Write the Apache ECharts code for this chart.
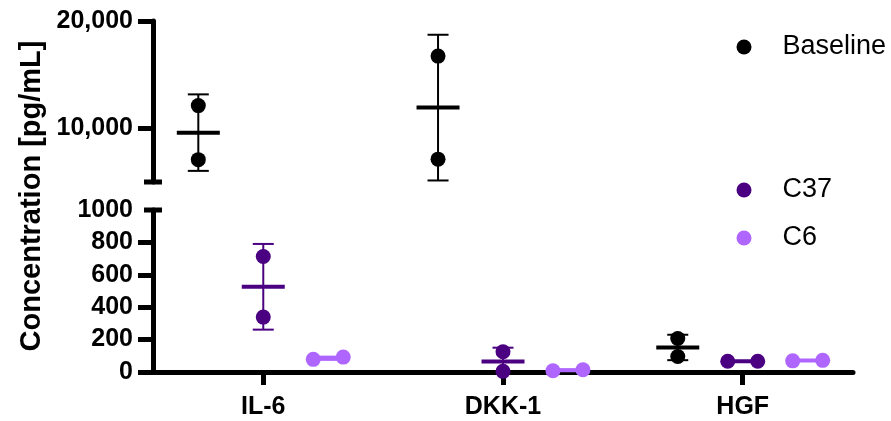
<!DOCTYPE html>
<html>
<head>
<meta charset="utf-8">
<script src="https://cdn.jsdelivr.net/npm/echarts@6/dist/echarts.min.js"></script>
<style>
html,body{margin:0;padding:0;background:#fff;}
#chart{width:891px;height:421px;}
</style>
</head>
<body>
<div id="chart"></div>
<script>
// ---- data ----
const categories = ['IL-6', 'DKK-1', 'HGF'];
const groupNames = ['Baseline', 'C37', 'C6'];
const baselineValues = [[12120, 7080], [16730, 7130], [207, 96]];
const c37Values = [[713, 339], [125, 4], [66, 66]];
const c6Values = [[78, 92], [8, 14], [69, 72]];
const topTickValues = [10000, 20000];
const bottomTickValues = [0, 200, 400, 600, 800, 1000];
const topRange = [5000, 20000];
const bottomRange = [0, 1000];

// ---- styling ----
const groupColors = ['#000000', '#4B0082', '#AE66FF'];
const groupOffsets = [-0.271, 0, 0.271];
const xMin = 0.54, xMax = 3.46;
const FONT = '"Liberation Sans", Arial, Helvetica, sans-serif';
const groupValues = [baselineValues, c37Values, c6Values];
const segments = [topRange, bottomRange];

function meanSd(vals) {
  const n = vals.length;
  const m = vals.reduce((a, b) => a + b, 0) / n;
  const v = vals.reduce((a, b) => a + (b - m) * (b - m), 0) / (n - 1);
  return [m, Math.sqrt(v)];
}

function makeRender(g, seg) {
  const [lo, hi] = segments[seg];
  const color = groupColors[g];
  return function (params, api) {
    const cat = api.value(0);
    const vals = [api.value(1), api.value(2)];
    const [m, sd] = meanSd(vals);
    if (m < lo || m > hi) return null;
    const xc = cat + groupOffsets[g];
    const clamp = v => Math.max(lo, Math.min(hi, v));
    const pm = api.coord([xc, m]);
    const pTop = api.coord([xc, clamp(m + sd)]);
    const pBot = api.coord([xc, clamp(m - sd)]);
    const pts = vals.map(v => api.coord([xc, v]));
    const children = [];
    const capHalf = 10.5, meanHalf = 21.5;
    children.push({type: 'line', shape: {x1: pm[0], y1: pTop[1], x2: pm[0], y2: pBot[1]}, style: {stroke: color, lineWidth: 2}});
    if (m + sd <= hi) children.push({type: 'line', shape: {x1: pm[0] - capHalf, y1: pTop[1], x2: pm[0] + capHalf, y2: pTop[1]}, style: {stroke: color, lineWidth: 2}});
    if (m - sd >= lo) children.push({type: 'line', shape: {x1: pm[0] - capHalf, y1: pBot[1], x2: pm[0] + capHalf, y2: pBot[1]}, style: {stroke: color, lineWidth: 2}});
    children.push({type: 'line', shape: {x1: pm[0] - meanHalf, y1: pm[1], x2: pm[0] + meanHalf, y2: pm[1]}, style: {stroke: color, lineWidth: 4}});
    const spread = Math.abs(pts[0][1] - pts[1][1]) < 15;
    pts.forEach((p, i) => {
      const dx = spread ? (i === 0 ? -15 : 15) : 0;
      children.push({type: 'circle', shape: {cx: p[0] + dx, cy: p[1], r: 7.5}, style: {fill: color}});
    });
    return {type: 'group', children: children};
  };
}

const series = [];
groupValues.forEach((vals, g) => {
  [0, 1].forEach(seg => {
    series.push({
      type: 'custom',
      name: groupNames[g],
      xAxisIndex: seg,
      yAxisIndex: seg,
      itemStyle: {color: groupColors[g]},
      data: categories.map((c, i) => [i + 1, vals[i][0], vals[i][1]]),
      encode: {x: 0, y: 1},
      renderItem: makeRender(g, seg),
      clip: false,
      silent: true,
      z: 10
    });
  });
});
// axis break caps
[[0, topRange[0]], [1, bottomRange[1]]].forEach(([seg, val]) => {
  series.push({
    type: 'custom',
    xAxisIndex: seg, yAxisIndex: seg,
    data: [[xMin, val]],
    clip: false, silent: true, z: 5,
    renderItem: function (params, api) {
      const p = api.coord([api.value(0), api.value(1)]);
      return {type: 'line', shape: {x1: p[0] - 9, y1: p[1], x2: p[0] + 9, y2: p[1]}, style: {stroke: '#000', lineWidth: 5}};
    }
  });
});

const legendBase = {
  orient: 'vertical', left: 736.5, padding: 0, icon: 'circle',
  itemWidth: 15, itemHeight: 15, selectedMode: false,
  textStyle: {fontSize: 27, fontFamily: FONT, color: '#000', padding: [0, 0, 0, 26]}
};

const option = {
  animation: false,
  backgroundColor: '#fff',
  grid: [
    {left: 153, right: 38, top: 21, height: 161},
    {left: 153, right: 38, top: 210, height: 162}
  ],
  xAxis: [
    {type: 'value', gridIndex: 0, min: xMin, max: xMax, show: false},
    {type: 'value', gridIndex: 1, min: xMin, max: xMax,
      axisLine: {show: true, lineStyle: {color: '#000', width: 5}},
      axisTick: {show: true, customValues: [1, 2, 3], length: 13, lineStyle: {color: '#000', width: 5}},
      axisLabel: {customValues: [1, 2, 3], formatter: v => categories[Math.round(v) - 1], fontSize: 25, fontWeight: 'bold', fontFamily: FONT, color: '#000', margin: 23},
      splitLine: {show: false}
    }
  ],
  yAxis: [
    {type: 'value', gridIndex: 0, min: topRange[0], max: topRange[1],
      axisLine: {show: true, lineStyle: {color: '#000', width: 5}},
      axisTick: {show: true, customValues: topTickValues, length: 15, lineStyle: {color: '#000', width: 5}},
      axisLabel: {customValues: topTickValues, formatter: v => v.toLocaleString('en-US'), fontSize: 25, fontWeight: 'bold', fontFamily: FONT, color: '#000', margin: 20},
      splitLine: {show: false}
    },
    {type: 'value', gridIndex: 1, min: bottomRange[0], max: bottomRange[1],
      axisLine: {show: true, lineStyle: {color: '#000', width: 5}},
      axisTick: {show: true, customValues: bottomTickValues.slice(0, -1), length: 15, lineStyle: {color: '#000', width: 5}},
      axisLabel: {customValues: bottomTickValues, formatter: v => String(v), fontSize: 25, fontWeight: 'bold', fontFamily: FONT, color: '#000', margin: 20},
      splitLine: {show: false}
    }
  ],
  legend: [
    Object.assign({}, legendBase, {top: 33.5, data: [groupNames[0]]}),
    Object.assign({}, legendBase, {top: 176.5, data: [groupNames[1]]}),
    Object.assign({}, legendBase, {top: 224.5, data: [groupNames[2]]})
  ],
  graphic: [{
    type: 'text', x: 32, y: 196, rotation: Math.PI / 2,
    style: {text: 'Concentration [pg/mL]', fontSize: 29, fontWeight: 'bold', fontFamily: FONT, fill: '#000', align: 'center', verticalAlign: 'middle'}
  }],
  series: series
};

const chart = echarts.init(document.getElementById('chart'), null, {renderer: 'canvas'});
chart.setOption(option);
</script>
</body>
</html>
